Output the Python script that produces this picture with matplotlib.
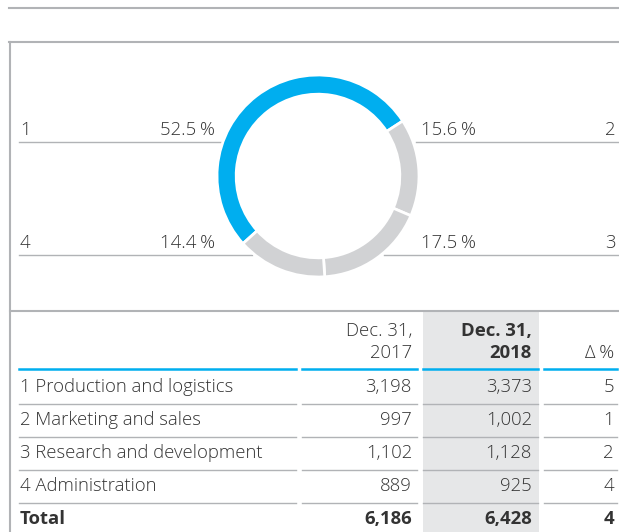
import matplotlib
matplotlib.use("Agg")
import matplotlib.pyplot as plt

plt.rcParams['font.family'] = ['Open Sans', 'DejaVu Sans']
plt.rcParams['font.weight'] = 'light'

# data
categories = ["Production and logistics", "Marketing and sales",
              "Research and development", "Administration"]
v2017 = [3198, 997, 1102, 889]
v2018 = [3373, 1002, 1128, 925]
delta = [5, 1, 2, 4]
total_2017 = 6186
total_2018 = 6428
total_delta = 4
shares = [52.5, 15.6, 17.5, 14.4]

blue = '#00aeef'
grey = '#d1d2d4'
txt = '#333333'
rule = '#b1b3b6'
fs = 13.3

fig = plt.figure(figsize=(6.19, 5.32), dpi=100)
bg = fig.add_axes([0, 0, 1, 1])
bg.set_xlim(0, 619)
bg.set_ylim(532, 0)
bg.axis('off')

# frame
bg.plot([9, 619], [8, 8], color=rule, lw=1.5)
bg.plot([9, 619], [42, 42], color=rule, lw=1.5)
bg.plot([10, 10], [42, 532], color=rule, lw=1.5)
bg.plot([10, 619], [311, 311], color=rule, lw=1.5)

# donut
cx, cy, r = 318, 176, 101
pax = fig.add_axes([(cx - r) / 619, 1 - (cy + r) / 532, 2 * r / 619, 2 * r / 532])
pax.pie(shares, startangle=222, counterclock=False,
        colors=[blue, grey, grey, grey], radius=1,
        wedgeprops=dict(width=0.19, edgecolor='white', linewidth=2))
pax.set_xlim(-1, 1)
pax.set_ylim(-1, 1)
pax.axis('off')

def pct(v):
    return f"{v:.1f}\u2009%"

# donut labels
bg.plot([19, 221], [142, 142], color=rule, lw=1)
bg.plot([19, 252], [255, 255], color=rule, lw=1)
bg.plot([416, 619], [142, 142], color=rule, lw=1)
bg.plot([384, 619], [255, 255], color=rule, lw=1)
bg.text(20, 139, "1", fontsize=fs, color=txt, ha='left', va='bottom')
bg.text(215, 139, pct(shares[0]), fontsize=fs, color=txt, ha='right', va='bottom')
bg.text(20, 252, "4", fontsize=fs, color=txt, ha='left', va='bottom')
bg.text(215, 252, pct(shares[3]), fontsize=fs, color=txt, ha='right', va='bottom')
bg.text(421, 139, pct(shares[1]), fontsize=fs, color=txt, ha='left', va='bottom')
bg.text(616, 139, "2", fontsize=fs, color=txt, ha='right', va='bottom')
bg.text(421, 252, pct(shares[2]), fontsize=fs, color=txt, ha='left', va='bottom')
bg.text(616, 252, "3", fontsize=fs, color=txt, ha='right', va='bottom')

# table
bg.fill_between([423, 539], 312, 532, color='#e6e7e8', lw=0)
cols = [(19, 296), (302, 417), (423, 538), (544, 617)]
bg.text(412, 342, "Dec. 31,\n2017", fontsize=fs, color=txt, ha='right', va='center',
        multialignment='right', linespacing=1.35)
bg.text(532, 342, "Dec. 31,\n2018", fontsize=fs, color=txt, ha='right', va='center',
        multialignment='right', linespacing=1.35, fontweight='bold')
bg.text(614, 353, "\u0394\u2009%", fontsize=fs, color=txt, ha='right', va='center')
for x0, x1 in cols:
    bg.plot([x0, x1], [369, 369], color=blue, lw=1.8)

row_y = [387, 420, 453, 486]
for i, name in enumerate(categories):
    y = row_y[i]
    bg.text(20, y, f"{i + 1} {name}", fontsize=fs, color=txt, ha='left', va='center')
    bg.text(412, y, f"{v2017[i]:,}", fontsize=fs, color=txt, ha='right', va='center')
    bg.text(532, y, f"{v2018[i]:,}", fontsize=fs, color=txt, ha='right', va='center')
    bg.text(614, y, f"{delta[i]}", fontsize=fs, color=txt, ha='right', va='center')
    for x0, x1 in cols:
        bg.plot([x0, x1], [y + 16.5, y + 16.5], color=rule, lw=1)

yt = 519
bg.text(20, yt, "Total", fontsize=fs, color=txt, ha='left', va='center', fontweight='bold')
bg.text(412, yt, f"{total_2017:,}", fontsize=fs, color=txt, ha='right', va='center', fontweight='bold')
bg.text(532, yt, f"{total_2018:,}", fontsize=fs, color=txt, ha='right', va='center', fontweight='bold')
bg.text(614, yt, f"{total_delta}", fontsize=fs, color=txt, ha='right', va='center', fontweight='bold')

fig.savefig("out.png", dpi=100)
